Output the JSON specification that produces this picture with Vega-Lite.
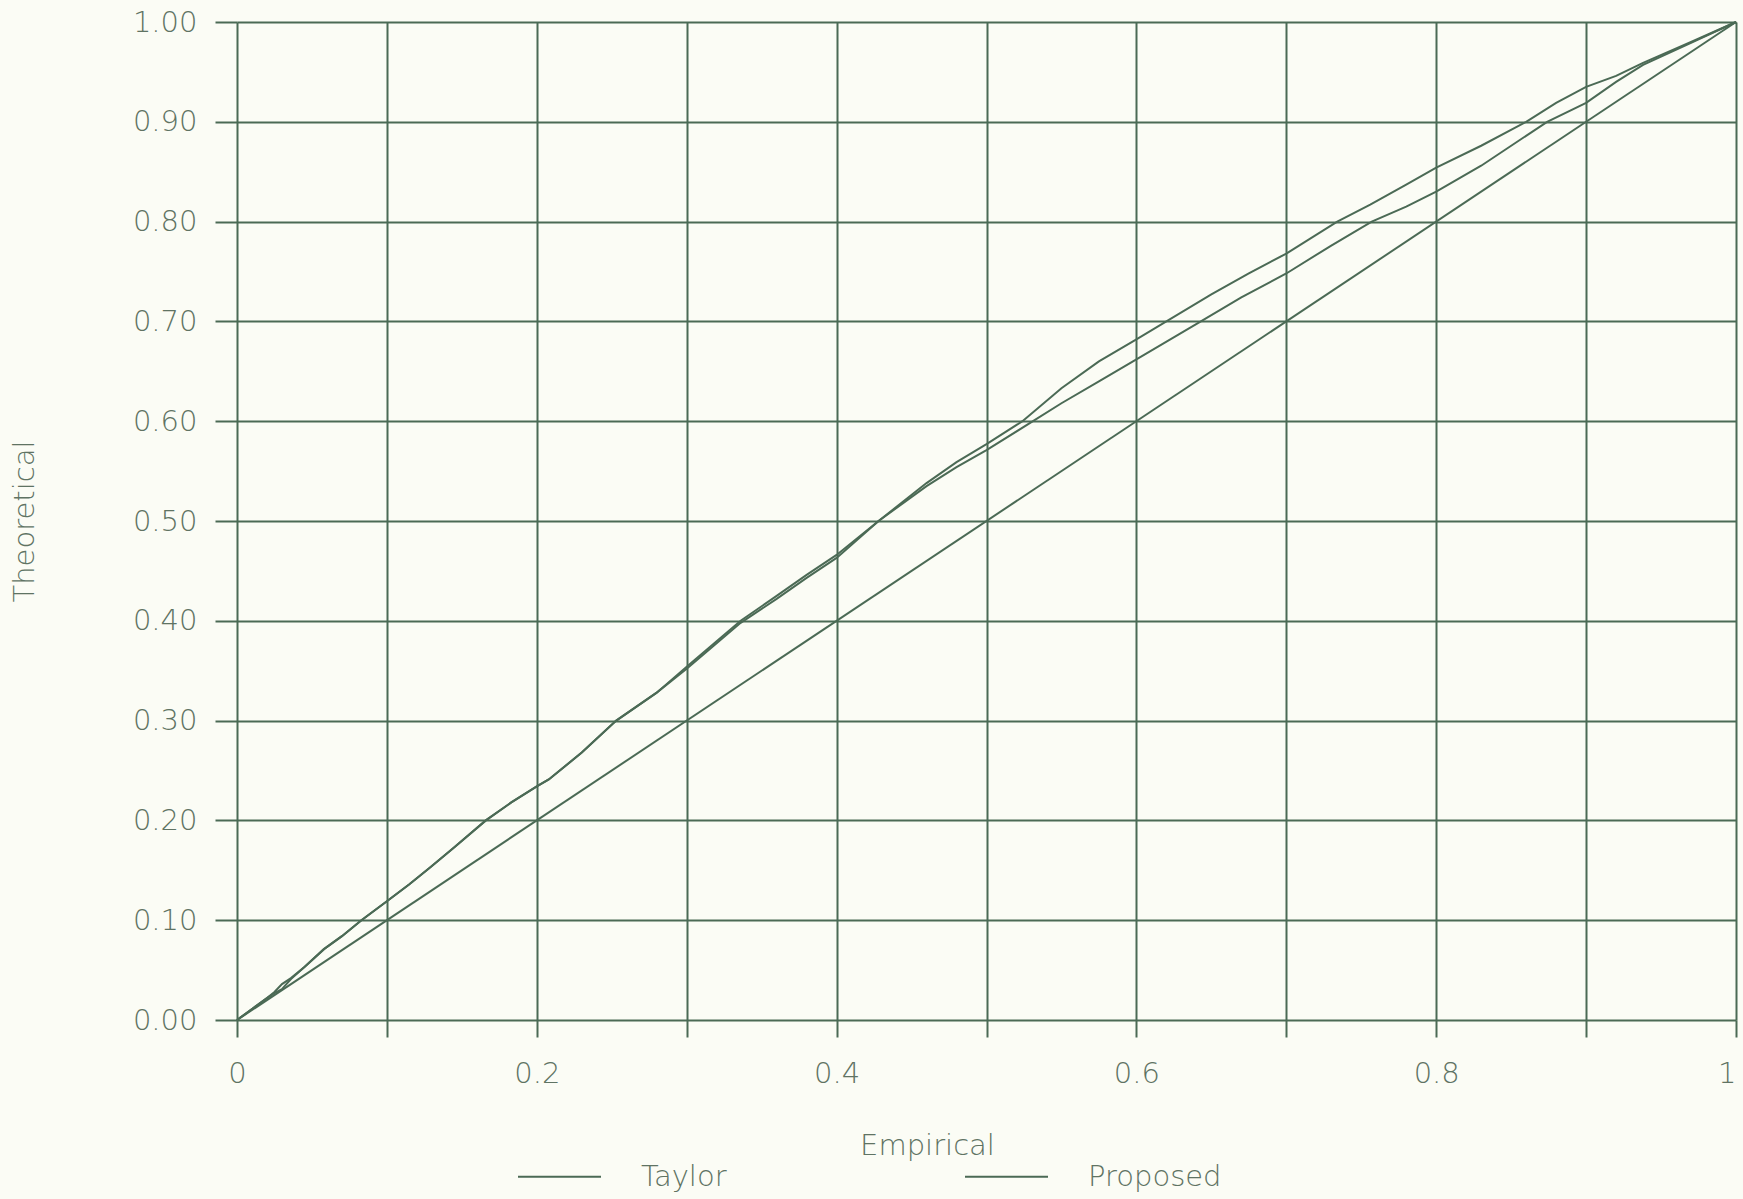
{
  "$schema": "https://vega.github.io/schema/vega-lite/v6.json",
  "autosize": {"type": "none"},
  "padding": {"left": 237, "top": 22, "right": 7, "bottom": 179},
  "width": 1499,
  "height": 998,
  "background": "#fbfcf5",
  "config": {
    "view": {"stroke": null},
    "font": "DejaVu Sans",
    "axis": {
      "labelFont": "DejaVu Sans",
      "labelFontWeight": 200,
      "labelFontSize": 29,
      "labelColor": "#5f7363",
      "titleFont": "DejaVu Sans",
      "titleFontWeight": 200,
      "titleFontSize": 29,
      "titleColor": "#5f7363",
      "gridColor": "#4b6a55",
      "gridOpacity": 1,
      "gridWidth": 2,
      "tickColor": "#4b6a55",
      "tickWidth": 2,
      "domain": false
    },
    "legend": {
      "labelFont": "DejaVu Sans",
      "labelFontWeight": 200,
      "labelFontSize": 29,
      "labelColor": "#5f7363"
    }
  },
  "datasets": {
    "curves": [
      {"x": 0, "y": 0, "series": "Taylor"},
      {"x": 0.01, "y": 0.011, "series": "Taylor"},
      {"x": 0.02, "y": 0.022, "series": "Taylor"},
      {"x": 0.025, "y": 0.028, "series": "Taylor"},
      {"x": 0.03, "y": 0.036, "series": "Taylor"},
      {"x": 0.036, "y": 0.042, "series": "Taylor"},
      {"x": 0.045, "y": 0.053, "series": "Taylor"},
      {"x": 0.058, "y": 0.071, "series": "Taylor"},
      {"x": 0.07, "y": 0.084, "series": "Taylor"},
      {"x": 0.083, "y": 0.1, "series": "Taylor"},
      {"x": 0.1, "y": 0.119, "series": "Taylor"},
      {"x": 0.115, "y": 0.136, "series": "Taylor"},
      {"x": 0.129, "y": 0.153, "series": "Taylor"},
      {"x": 0.145, "y": 0.173, "series": "Taylor"},
      {"x": 0.166, "y": 0.2, "series": "Taylor"},
      {"x": 0.183, "y": 0.218, "series": "Taylor"},
      {"x": 0.2, "y": 0.234, "series": "Taylor"},
      {"x": 0.208, "y": 0.241, "series": "Taylor"},
      {"x": 0.23, "y": 0.268, "series": "Taylor"},
      {"x": 0.253, "y": 0.3, "series": "Taylor"},
      {"x": 0.28, "y": 0.328, "series": "Taylor"},
      {"x": 0.3, "y": 0.354, "series": "Taylor"},
      {"x": 0.318, "y": 0.377, "series": "Taylor"},
      {"x": 0.336, "y": 0.4, "series": "Taylor"},
      {"x": 0.36, "y": 0.425, "series": "Taylor"},
      {"x": 0.38, "y": 0.446, "series": "Taylor"},
      {"x": 0.4, "y": 0.466, "series": "Taylor"},
      {"x": 0.428, "y": 0.5, "series": "Taylor"},
      {"x": 0.46, "y": 0.538, "series": "Taylor"},
      {"x": 0.48, "y": 0.559, "series": "Taylor"},
      {"x": 0.5, "y": 0.577, "series": "Taylor"},
      {"x": 0.524, "y": 0.6, "series": "Taylor"},
      {"x": 0.55, "y": 0.633, "series": "Taylor"},
      {"x": 0.575, "y": 0.66, "series": "Taylor"},
      {"x": 0.6, "y": 0.682, "series": "Taylor"},
      {"x": 0.62, "y": 0.7, "series": "Taylor"},
      {"x": 0.65, "y": 0.727, "series": "Taylor"},
      {"x": 0.675, "y": 0.748, "series": "Taylor"},
      {"x": 0.7, "y": 0.768, "series": "Taylor"},
      {"x": 0.734, "y": 0.8, "series": "Taylor"},
      {"x": 0.756, "y": 0.817, "series": "Taylor"},
      {"x": 0.78, "y": 0.837, "series": "Taylor"},
      {"x": 0.8, "y": 0.854, "series": "Taylor"},
      {"x": 0.83, "y": 0.876, "series": "Taylor"},
      {"x": 0.86, "y": 0.9, "series": "Taylor"},
      {"x": 0.88, "y": 0.919, "series": "Taylor"},
      {"x": 0.9, "y": 0.935, "series": "Taylor"},
      {"x": 0.92, "y": 0.946, "series": "Taylor"},
      {"x": 0.938, "y": 0.959, "series": "Taylor"},
      {"x": 0.97, "y": 0.98, "series": "Taylor"},
      {"x": 1, "y": 1, "series": "Taylor"},
      {"x": 0, "y": 0, "series": "Proposed"},
      {"x": 0.01, "y": 0.011, "series": "Proposed"},
      {"x": 0.02, "y": 0.022, "series": "Proposed"},
      {"x": 0.025, "y": 0.027, "series": "Proposed"},
      {"x": 0.03, "y": 0.031, "series": "Proposed"},
      {"x": 0.036, "y": 0.041, "series": "Proposed"},
      {"x": 0.045, "y": 0.053, "series": "Proposed"},
      {"x": 0.058, "y": 0.071, "series": "Proposed"},
      {"x": 0.07, "y": 0.084, "series": "Proposed"},
      {"x": 0.083, "y": 0.1, "series": "Proposed"},
      {"x": 0.1, "y": 0.119, "series": "Proposed"},
      {"x": 0.115, "y": 0.136, "series": "Proposed"},
      {"x": 0.129, "y": 0.153, "series": "Proposed"},
      {"x": 0.145, "y": 0.173, "series": "Proposed"},
      {"x": 0.166, "y": 0.2, "series": "Proposed"},
      {"x": 0.183, "y": 0.218, "series": "Proposed"},
      {"x": 0.2, "y": 0.234, "series": "Proposed"},
      {"x": 0.208, "y": 0.241, "series": "Proposed"},
      {"x": 0.23, "y": 0.268, "series": "Proposed"},
      {"x": 0.253, "y": 0.3, "series": "Proposed"},
      {"x": 0.28, "y": 0.328, "series": "Proposed"},
      {"x": 0.3, "y": 0.352, "series": "Proposed"},
      {"x": 0.318, "y": 0.375, "series": "Proposed"},
      {"x": 0.336, "y": 0.398, "series": "Proposed"},
      {"x": 0.36, "y": 0.422, "series": "Proposed"},
      {"x": 0.38, "y": 0.443, "series": "Proposed"},
      {"x": 0.4, "y": 0.463, "series": "Proposed"},
      {"x": 0.428, "y": 0.5, "series": "Proposed"},
      {"x": 0.46, "y": 0.535, "series": "Proposed"},
      {"x": 0.48, "y": 0.554, "series": "Proposed"},
      {"x": 0.5, "y": 0.571, "series": "Proposed"},
      {"x": 0.531, "y": 0.6, "series": "Proposed"},
      {"x": 0.55, "y": 0.618, "series": "Proposed"},
      {"x": 0.575, "y": 0.64, "series": "Proposed"},
      {"x": 0.6, "y": 0.662, "series": "Proposed"},
      {"x": 0.643, "y": 0.7, "series": "Proposed"},
      {"x": 0.67, "y": 0.724, "series": "Proposed"},
      {"x": 0.7, "y": 0.748, "series": "Proposed"},
      {"x": 0.73, "y": 0.776, "series": "Proposed"},
      {"x": 0.757, "y": 0.8, "series": "Proposed"},
      {"x": 0.78, "y": 0.815, "series": "Proposed"},
      {"x": 0.8, "y": 0.83, "series": "Proposed"},
      {"x": 0.83, "y": 0.856, "series": "Proposed"},
      {"x": 0.874, "y": 0.9, "series": "Proposed"},
      {"x": 0.9, "y": 0.919, "series": "Proposed"},
      {"x": 0.92, "y": 0.94, "series": "Proposed"},
      {"x": 0.938, "y": 0.957, "series": "Proposed"},
      {"x": 0.97, "y": 0.979, "series": "Proposed"},
      {"x": 1, "y": 1, "series": "Proposed"}
    ],
    "diagonal": [
      {"x": 0, "y": 0},
      {"x": 1, "y": 1}
    ]
  },
  "layer": [
    {
      "data": {"name": "diagonal"},
      "mark": {"type": "line", "color": "#4b6a55", "strokeWidth": 2},
      "encoding": {
        "x": {
          "field": "x", "type": "quantitative",
          "scale": {"domain": [0, 1], "nice": false, "zero": false},
          "axis": {
            "values": [0, 0.1, 0.2, 0.3, 0.4, 0.5, 0.6, 0.7, 0.8, 0.9, 1],
            "labelExpr": "round(datum.value * 10) % 2 == 0 ? format(datum.value, '~g') : ''",
            "labelAlign": {"condition": {"test": "datum.value == 1", "value": "right"}, "value": "center"},
            "tickSize": 17,
            "labelPadding": 22,
            "labelFlush": false,
            "title": "Empirical",
            "titleX": 690,
            "titleY": 125,
            "titleBaseline": "middle",
            "titleAnchor": null
          }
        },
        "y": {
          "field": "y", "type": "quantitative",
          "scale": {"domain": [0, 1], "nice": false, "zero": false},
          "axis": {
            "values": [0, 0.1, 0.2, 0.3, 0.4, 0.5, 0.6, 0.7, 0.8, 0.9, 1],
            "format": ".2f",
            "tickSize": 22,
            "labelPadding": 18,
            "labelFlush": false,
            "title": "Theoretical",
            "titleX": -213,
            "titleY": 499,
            "titleAngle": -90,
            "titleBaseline": "middle",
            "titleAlign": "center"
          }
        }
      }
    },
    {
      "data": {"name": "curves"},
      "mark": {"type": "line", "strokeWidth": 2},
      "encoding": {
        "x": {"field": "x", "type": "quantitative"},
        "y": {"field": "y", "type": "quantitative"},
        "color": {
          "field": "series", "type": "nominal",
          "scale": {"domain": ["Taylor", "Proposed"], "range": ["#4b6a55", "#4b6a55"]},
          "legend": {
            "orient": "none",
            "direction": "horizontal",
            "legendX": 280,
            "legendY": 1112,
            "title": null,
            "symbolType": "stroke",
            "symbolSize": 6889,
            "symbolStrokeWidth": 2,
            "labelOffset": 39,
            "columnPadding": 234
          }
        }
      }
    }
  ]
}
